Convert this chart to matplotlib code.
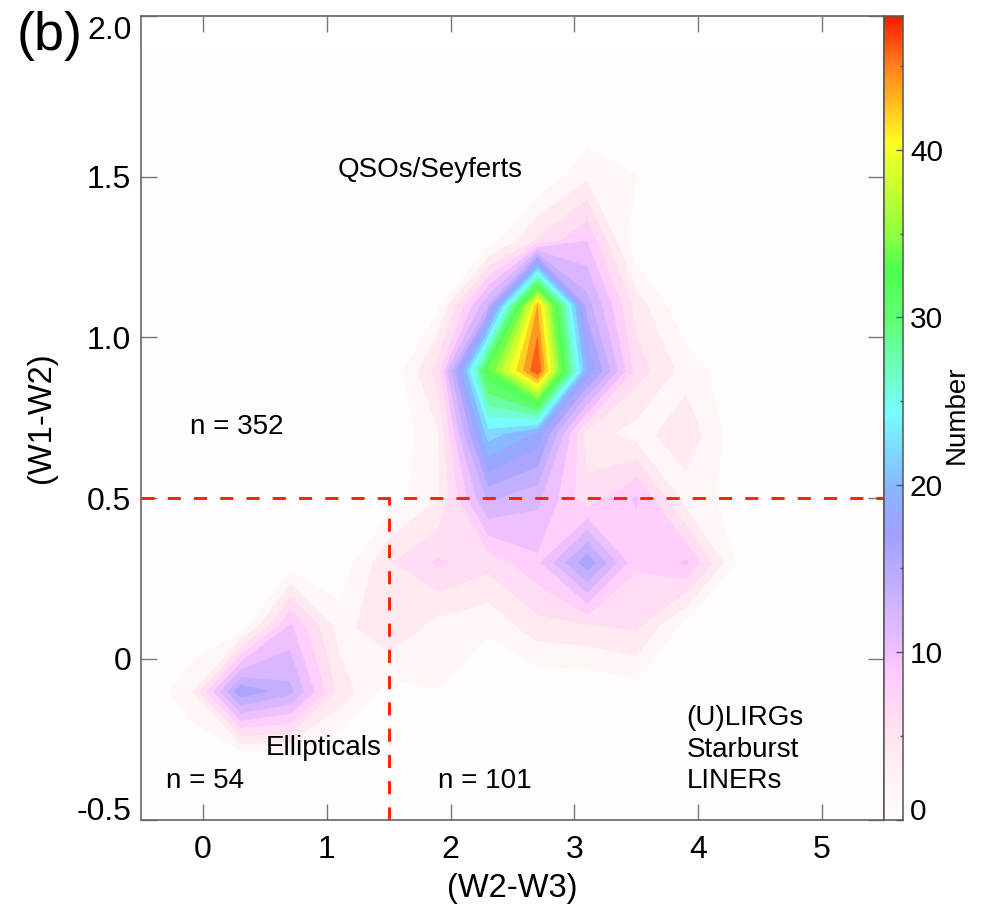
import numpy as np
import matplotlib
matplotlib.use('Agg')
import matplotlib.pyplot as plt
from matplotlib.collections import PolyCollection
from matplotlib.colors import LinearSegmentedColormap
from matplotlib.transforms import ScaledTranslation

plt.rcParams['font.family'] = ['Liberation Sans', 'DejaVu Sans']

# colour grid centres
w2w3 = [-0.5, -0.1, 0.3, 0.7, 1.1, 1.5, 1.9, 2.3, 2.7, 3.1, 3.5, 3.9, 4.3, 4.7, 5.1, 5.5]
w1w2 = [-0.5, -0.3, -0.1, 0.1, 0.3, 0.5, 0.7, 0.9, 1.1, 1.3, 1.5, 1.7, 1.9]

# counts, one list per W1-W2 row
row_m05 = [0, 0, 0, 0, 0, 0, 0, 0, 0, 0, 0, 0, 0, 0, 0, 0]
row_m03 = [0, 0, 0.7, 1.3, 0, 0, 0, 0, 0, 0, 0, 0, 0, 0, 0, 0]
row_m01 = [0, 3.6, 17.6, 14.6, 5.3, 1.0, 1.95, 0, 0, 0, 1.0, 0, 0, 0, 0, 0]
row_p01 = [0, 0, 0.3, 10.5, 3.1, 5.8, 3.1, 2.3, 5.1, 5.6, 6.3, 1.0, 0, 0, 0, 0]
row_p03 = [0, 0, 0, 0.9, 0.3, 5.8, 8.3, 6.7, 9.5, 17.5, 8.3, 10.3, 2.0, 0, 0, 0]
row_p05 = [0, 0, 0, 0, 0, 0.8, 3.9, 14.4, 12.5, 6.6, 10.3, 2.9, 1.35, 0, 0, 0]
row_p07 = [0, 0, 0, 0, 0, 0, 3.9, 23, 19.6, 5.0, 3.1, 5.45, 0.83, 0, 0, 0]
row_p09 = [0, 0, 0, 0, 0, 0, 7.1, 34, 48, 20, 7.0, 3.1, 0.6, 0, 0, 0]
row_p11 = [0, 0, 0, 0, 0, 0, 1.6, 14, 44, 15, 5.1, 0, 0, 0, 0, 0]
row_p13 = [0, 0, 0, 0, 0, 0, 0, 0.7, 6.4, 10, 0, 0, 0, 0, 0, 0]
row_p15 = [0, 0, 0, 0, 0, 0, 0, 0, 0, 3.6, 2.05, 0, 0, 0, 0, 0]
row_p17 = [0, 0, 0, 0, 0, 0, 0, 0, 0, 0, 0, 0, 0, 0, 0, 0]
row_p19 = [0, 0, 0, 0, 0, 0, 0, 0, 0, 0, 0, 0, 0, 0, 0, 0]

counts = np.array([row_m05, row_m03, row_m01, row_p01, row_p03, row_p05, row_p07,
                   row_p09, row_p11, row_p13, row_p15, row_p17, row_p19])

levels = list(range(0, 48, 2))

# colour table
cbar_vals = [0, 2, 5, 8.9, 10, 15, 17, 20, 24.3, 30, 32.8, 35, 40.4, 45, 48]
cbar_cols = ['#fffcfe', '#fff6f6', '#ffe4ee', '#ffc8ff', '#eec0ff', '#b8aaff', '#a0a0ff',
             '#88b8ff', '#77ffff', '#60ff70', '#50ff50', '#90ff44', '#ffff22', '#ff8020', '#ff1800']
cmap = LinearSegmentedColormap.from_list('number', [(v / 48, c) for v, c in zip(cbar_vals, cbar_cols)], N=512)


def cross(p, q, vp, vq, lev):
    t = (lev - vp) / (vq - vp)
    return (p[0] + t * (q[0] - p[0]), p[1] + t * (q[1] - p[1]))


def above_level(pts, vals, lev):
    # part of one grid cell at or above lev, with straight contour segments
    up = [v >= lev for v in vals]
    if up[0] == up[2] and up[1] == up[3] and up[0] != up[1]:
        # saddle: the two high corners stay apart
        out = []
        for k in range(4):
            if up[k]:
                a, b = (k - 1) % 4, (k + 1) % 4
                out.append([cross(pts[a], pts[k], vals[a], vals[k], lev), pts[k],
                            cross(pts[k], pts[b], vals[k], vals[b], lev)])
        return out
    poly = []
    for k in range(4):
        n = (k + 1) % 4
        if up[k]:
            poly.append(pts[k])
        if up[k] != up[n]:
            poly.append(cross(pts[k], pts[n], vals[k], vals[n], lev))
    return [poly] if len(poly) >= 3 else []


polys, poly_cols = [], []
for lev in levels:
    for j in range(len(w1w2) - 1):
        for i in range(len(w2w3) - 1):
            pts = [(w2w3[i], w1w2[j]), (w2w3[i + 1], w1w2[j]),
                   (w2w3[i + 1], w1w2[j + 1]), (w2w3[i], w1w2[j + 1])]
            vals = [counts[j, i], counts[j, i + 1], counts[j + 1, i + 1], counts[j + 1, i]]
            for poly in above_level(pts, vals, lev):
                polys.append(poly)
                poly_cols.append(cmap(lev / 48))

W, H = 985, 905
fig = plt.figure(figsize=(W / 100, H / 100), dpi=100)
ax = fig.add_axes([141 / W, 1 - 819.5 / H, (884 - 141) / W, (819.5 - 16) / H])
ax.add_collection(PolyCollection(polys, facecolors=poly_cols, edgecolors=poly_cols, linewidths=0.4))

# class boundaries
red = '#ff2200'
ax.plot([-0.5, 5.5], [0.5, 0.5], color=red, lw=2.1, ls=(0, (4.5, 4.5)), dash_capstyle='butt', clip_on=False)
ax.plot([1.5, 1.5], [-0.5, 0.5], color=red, lw=2.1, ls=(0, (4.5, 4.5)), dash_capstyle='butt', clip_on=False)

ax.set_xlim(-0.5, 5.5)
ax.set_ylim(-0.5, 2.0)
ax.set_xticks([0, 1, 2, 3, 4, 5])
ax.set_xticklabels(['0', '1', '2', '3', '4', '5'])
ax.set_yticks([-0.5, 0, 0.5, 1.0, 1.5, 2.0])
ylabels = ax.set_yticklabels(['-0.5', '0', '0.5', '1.0', '1.5', '2.0'])
ax.tick_params(axis='both', direction='in', length=11.5, width=1.0, color='#777777',
               top=True, right=True, labelsize=23, pad=7)
ax.tick_params(axis='x', pad=11)
ylabels[0].set_verticalalignment('baseline')
ylabels[-1].set_transform(ylabels[-1].get_transform() + ScaledTranslation(0, -8 / 72, fig.dpi_scale_trans))
for s in ax.spines.values():
    s.set_color('#666666')
    s.set_linewidth(1.2)
ax.set_xlabel('(W2-W3)', fontsize=23.5, labelpad=6)
ax.set_ylabel('(W1-W2)', fontsize=23.5, labelpad=14)

txt = 20
ax.text(1.09, 1.52, 'QSOs/Seyferts', fontsize=txt, va='center')
ax.text(-0.105, 0.72, 'n = 352', fontsize=txt, va='center')
ax.text(0.51, -0.278, 'Ellipticals', fontsize=txt, va='center')
ax.text(-0.30, -0.381, 'n = 54', fontsize=txt, va='center')
ax.text(1.895, -0.381, 'n = 101', fontsize=txt, va='center')
ax.text(3.905, -0.183, '(U)LIRGs', fontsize=txt, va='center')
ax.text(3.905, -0.283, 'Starburst', fontsize=txt, va='center')
ax.text(3.905, -0.381, 'LINERs', fontsize=txt, va='center')

fig.text(17 / W, 1 - 36 / H, '(b)', fontsize=39, va='center')

# colour bar
cax = fig.add_axes([884 / W, 1 - 819.5 / H, 19 / W, (819.5 - 16) / H])
grad = np.linspace(0, 48, 512).reshape(-1, 1)
cax.imshow(grad, origin='lower', aspect='auto', cmap=cmap, extent=[0, 1, 0, 48], vmin=0, vmax=48)
cax.set_xticks([])
cax.yaxis.tick_right()
cax.set_yticks([0, 10, 20, 30, 40])
cbar_labels = cax.set_yticklabels(['0', '10', '20', '30', '40'])
cax.set_yticks([5, 15, 25, 35, 45], minor=True)
cax.tick_params(axis='y', which='major', direction='in', length=5, width=1.0, color='#555555',
                labelsize=21.5, pad=5)
cax.tick_params(axis='y', which='minor', direction='in', length=2.5, width=1.0, color='#555555')
cbar_labels[0].set_verticalalignment('baseline')
for s in cax.spines.values():
    s.set_color('#555555')
    s.set_linewidth(1.1)
fig.text(957 / W, 1 - 415 / H, 'Number', fontsize=20, rotation=90, ha='center', va='center')

fig.savefig('out.png', dpi=100)
